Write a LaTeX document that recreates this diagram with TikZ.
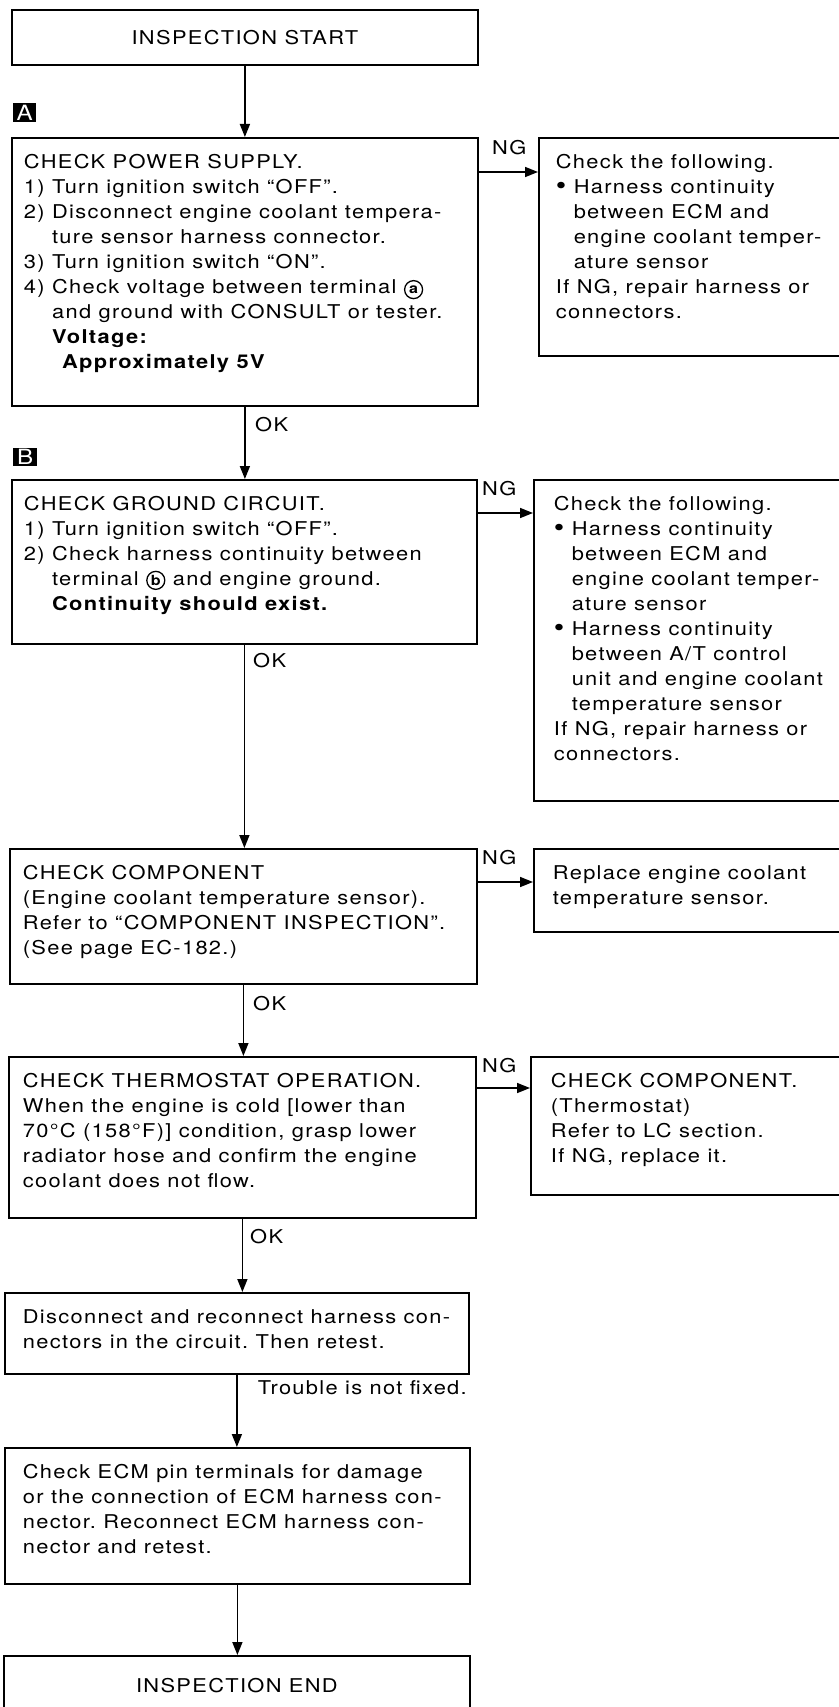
\documentclass[tikz,border=0pt]{standalone}
\usepackage{fontspec}
\setmainfont{TeX Gyre Heros}[FakeStretch=1.15,LetterSpace=7]
\usetikzlibrary{arrows.meta,positioning}

\newcommand{\boxtxt}[3]{\parbox[t][#2][t]{#1}{\begin{tabular}[t]{@{}l@{}}#3\end{tabular}}}
\newcommand{\cterm}[1]{\tikz[baseline=(ct.base)]\node[circle,draw,line width=1.3pt,minimum size=18pt,inner sep=0pt,font=\fontsize{14}{14}\selectfont\bfseries] (ct) {#1};}
\newcommand{\ind}{\phantom{2)\ }}
\newcommand{\bul}{{\fontsize{26}{20}\selectfont\raisebox{-1.5pt}{\textbullet}}\ }
\newcommand{\bind}{\phantom{\bul}}
\frenchspacing

\begin{document}
\begin{tikzpicture}[x=1pt,y=-1pt,font=\fontsize{19}{25}\selectfont,
    stepbox/.style={draw,line width=1.8pt,anchor=north west,inner xsep=12pt,inner ysep=13pt},
    termbox/.style={draw,line width=1.8pt,anchor=north west,minimum width=466pt,inner sep=0pt},
    tagbox/.style={fill=black,text=white,anchor=north west,inner sep=0pt,minimum width=23pt,minimum height=19pt,font=\fontsize{21}{21}\selectfont},
    flow/.style={-{Triangle[length=13pt,width=10pt]},line width=1.6pt},
    lbl/.style={anchor=north west,inner sep=0pt}]
  \useasboundingbox (0,0) rectangle (838,1707);

  \node[termbox,minimum height=55pt] (start) at (11,9) {INSPECTION START};

  \node[tagbox] (tagA) at (13,103) {A};
  \node[stepbox] (chkpwr) at (11,137) {\boxtxt{442pt}{242pt}{CHECK POWER SUPPLY.\\
    1) Turn ignition switch ``OFF''.\\
    2) Disconnect engine coolant tempera-\\
    \ind ture sensor harness connector.\\
    3) Turn ignition switch ``ON''.\\
    4) Check voltage between terminal \cterm{a}\\
    \ind and ground with CONSULT or tester.\\
    \ind\textbf{Voltage:}\\
    \ind\hspace{10pt}\textbf{Approximately 5V}}};
  \node[stepbox,inner xsep=17pt] (ngpwr) at (538,137) {\boxtxt{296pt}{192pt}{Check the following.\\
    \bul Harness continuity\\
    \bind between ECM and\\
    \bind engine coolant temper-\\
    \bind ature sensor\\
    If NG, repair harness or\\
    connectors.}};

  \node[tagbox,minimum width=24pt,minimum height=18pt] (tagB) at (13,448) {B};
  \node[stepbox] (chkgnd) at (11,479) {\boxtxt{441pt}{138pt}{CHECK GROUND CIRCUIT.\\
    1) Turn ignition switch ``OFF''.\\
    2) Check harness continuity between\\
    \ind terminal \cterm{b} and engine ground.\\
    \ind\textbf{Continuity should exist.}}};
  \node[stepbox,inner xsep=20pt] (nggnd) at (533,479) {\boxtxt{295pt}{295pt}{Check the following.\\
    \bul Harness continuity\\
    \bind between ECM and\\
    \bind engine coolant temper-\\
    \bind ature sensor\\
    \bul Harness continuity\\
    \bind between A/T control\\
    \bind unit and engine coolant\\
    \bind temperature sensor\\
    If NG, repair harness or\\
    connectors.}};

  \node[stepbox,inner xsep=13pt] (chkcomp) at (9,848) {\boxtxt{441pt}{109pt}{CHECK COMPONENT\\
    (Engine coolant temperature sensor).\\
    Refer to ``COMPONENT INSPECTION''.\\
    (See page EC-182.)}};
  \node[stepbox,inner xsep=19pt] (ngcomp) at (533,848) {\boxtxt{297pt}{57pt}{Replace engine coolant\\
    temperature sensor.}};

  \node[stepbox,inner xsep=14pt] (chkthermo) at (8,1056) {\boxtxt{439pt}{135pt}{CHECK THERMOSTAT OPERATION.\\
    When the engine is cold [lower than\\
    70°C (158°F)] condition, grasp lower\\
    radiator hose and confirm the engine\\
    coolant does not flow.}};
  \node[stepbox,inner xsep=20pt] (ngthermo) at (530,1056) {\boxtxt{298pt}{112pt}{CHECK COMPONENT.\\
    (Thermostat)\\
    Refer to LC section.\\
    If NG, replace it.}};

  \node[stepbox,inner xsep=18pt] (disc) at (4,1292) {\boxtxt{428pt}{55pt}{Disconnect and reconnect harness con-\\
    nectors in the circuit. Then retest.}};
  \node[stepbox,inner xsep=18pt] (ecm) at (4,1447) {\boxtxt{429pt}{110pt}{Check ECM pin terminals for damage\\
    or the connection of ECM harness con-\\
    nector. Reconnect ECM harness con-\\
    nector and retest.}};
  \node[termbox,minimum height=60pt] (endbox) at (3,1655) {INSPECTION END};

  \node[lbl] (ngA) at (492,140) {NG};
  \node[lbl] (okA) at (255,417) {OK};
  \node[lbl] (ngB) at (482,481) {NG};
  \node[lbl] (okB) at (253,653) {OK};
  \node[lbl] (ngC) at (482,850) {NG};
  \node[lbl] (okC) at (253,996) {OK};
  \node[lbl] (ngD) at (482,1058) {NG};
  \node[lbl] (okD) at (250,1229) {OK};
  \node[lbl,anchor=north east] (trouble) at (467,1380) {Trouble is not fixed.};

  \draw[flow] (start.south) -- (start.south |- chkpwr.north);
  \draw[flow] (chkpwr.east |- 0,172) -- (ngpwr.west |- 0,172);
  \draw[flow] (chkpwr.south) -- (chkpwr.south |- chkgnd.north);
  \draw[flow] (chkgnd.east |- 0,513) -- (nggnd.west |- 0,513);
  \draw[flow] (chkgnd.south) -- (chkgnd.south |- chkcomp.north);
  \draw[flow] (chkcomp.east |- 0,882) -- (ngcomp.west |- 0,882);
  \draw[flow] (chkcomp.south) -- (chkcomp.south |- chkthermo.north);
  \draw[flow] (chkthermo.east |- 0,1088) -- (ngthermo.west |- 0,1088);
  \draw[flow] (chkthermo.south) -- (chkthermo.south |- disc.north);
  \draw[flow] (disc.south) -- (disc.south |- ecm.north);
  \draw[flow] (ecm.south) -- (ecm.south |- endbox.north);
\end{tikzpicture}
\end{document}
